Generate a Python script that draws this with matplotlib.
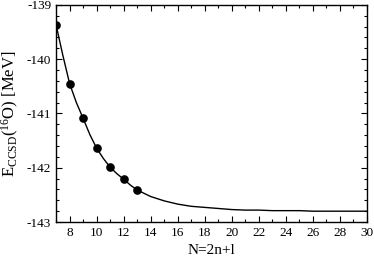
import matplotlib
matplotlib.use("Agg")
import matplotlib.pyplot as plt
from matplotlib.ticker import MultipleLocator

plt.rcParams['font.family'] = ['Liberation Serif', 'DejaVu Serif']
plt.rcParams['mathtext.fontset'] = 'custom'
plt.rcParams['mathtext.rm'] = 'Liberation Serif'
plt.rcParams['mathtext.it'] = 'Liberation Serif:italic'
plt.rcParams['axes.unicode_minus'] = False

# data points
N_pts = [7, 8, 9, 10, 11, 12, 13]
E_pts = [-139.37, -140.45, -141.09, -141.64, -141.99, -142.21, -142.41]

# fitted curve
N_fit = [7, 7.5, 8, 8.5, 9, 9.5, 10, 10.5, 11, 11.5, 12, 12.5, 13, 14, 15, 16, 17,
         18, 19, 20, 21, 22, 23, 24, 25, 26, 27, 28, 29, 30]
E_fit = [-139.37, -139.93, -140.45, -140.80, -141.09, -141.39, -141.64, -141.83,
         -141.99, -142.11, -142.21, -142.32, -142.41, -142.53, -142.61, -142.67,
         -142.71, -142.73, -142.75, -142.77, -142.78, -142.78, -142.79, -142.79,
         -142.79, -142.80, -142.80, -142.80, -142.80, -142.80]

fig = plt.figure(figsize=(3.74, 2.57), dpi=100)
ax = fig.add_axes([0.150, 0.136, 0.831, 0.845])

ax.plot(N_fit, E_fit, color='black', lw=1.0)
ax.plot(N_pts, E_pts, 'o', color='black', ms=5.2)

ax.set_xlim(7, 30)
ax.set_ylim(-143, -139)
ax.xaxis.set_major_locator(MultipleLocator(2))
ax.xaxis.set_minor_locator(MultipleLocator(1))
ax.yaxis.set_major_locator(MultipleLocator(1))
ax.yaxis.set_minor_locator(MultipleLocator(0.2))
ax.tick_params(which='both', direction='in', top=True, right=True, labelsize=9.5, width=0.8)
ax.tick_params(which='major', length=4)
ax.tick_params(which='minor', length=2.5)
for s in ax.spines.values():
    s.set_linewidth(1.0)

ax.set_xlabel('N=2n+l', fontsize=11)
ax.set_ylabel(r'E$_{\rm CCSD}$($^{16}$O) [MeV]', fontsize=12)

fig.savefig('out.png', dpi=100)
